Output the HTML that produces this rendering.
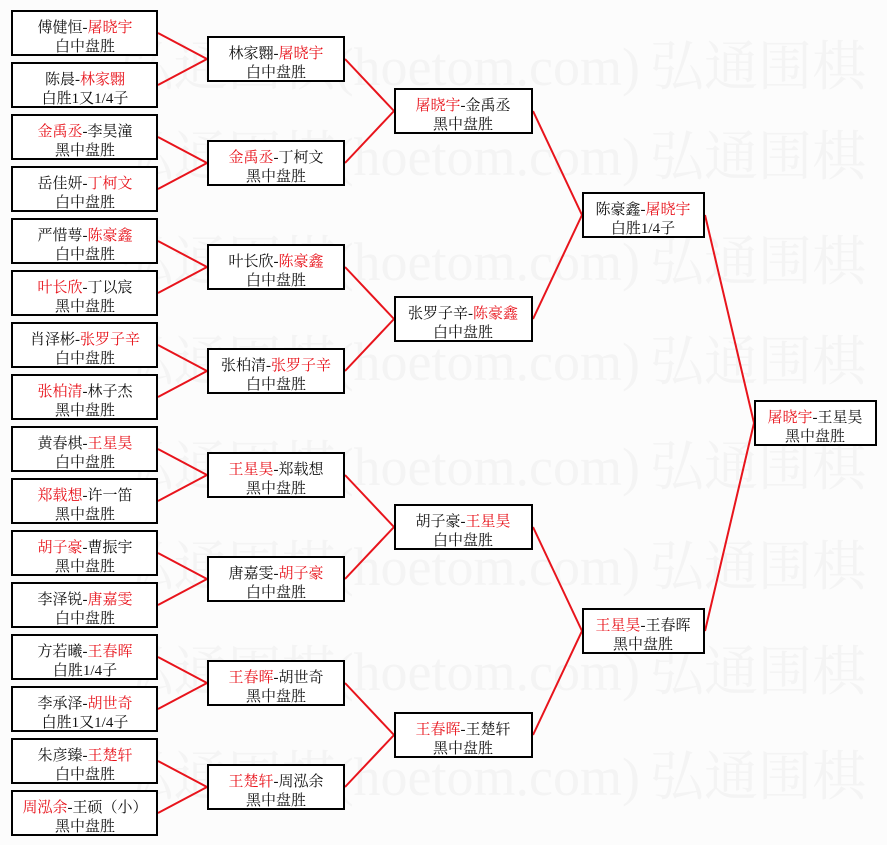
<!DOCTYPE html>
<html><head><meta charset="utf-8"><style>
html,body{margin:0;padding:0;background:#fcfcfc;}
svg{display:block;}
.t{font-family:"Liberation Serif","Noto Serif CJK SC","Noto Sans CJK SC",serif;font-size:15px;fill:#111;text-anchor:middle;}
.r{fill:#e8141c;}
.w{font-family:"Liberation Serif","Noto Serif CJK SC",serif;font-size:54px;fill:#f4f4f4;}
rect{fill:#fff;stroke:#000;stroke-width:2;}
line{stroke:#e8141c;stroke-width:2;}
</style></head><body>
<svg width="887" height="845" viewBox="0 0 887 845" xmlns="http://www.w3.org/2000/svg">
<g class="w">
<text x="640" y="85" text-anchor="end">弘通围棋(hoetom.com)</text><text x="650" y="85">弘通围棋</text>
<text x="640" y="175" text-anchor="end">弘通围棋(hoetom.com)</text><text x="650" y="175">弘通围棋</text>
<text x="640" y="280" text-anchor="end">弘通围棋(hoetom.com)</text><text x="650" y="280">弘通围棋</text>
<text x="640" y="380" text-anchor="end">弘通围棋(hoetom.com)</text><text x="650" y="380">弘通围棋</text>
<text x="640" y="485" text-anchor="end">弘通围棋(hoetom.com)</text><text x="650" y="485">弘通围棋</text>
<text x="640" y="585" text-anchor="end">弘通围棋(hoetom.com)</text><text x="650" y="585">弘通围棋</text>
<text x="640" y="690" text-anchor="end">弘通围棋(hoetom.com)</text><text x="650" y="690">弘通围棋</text>
<text x="640" y="795" text-anchor="end">弘通围棋(hoetom.com)</text><text x="650" y="795">弘通围棋</text>
</g>
<g>
<line x1="158" y1="33" x2="207" y2="59"/><line x1="158" y1="85" x2="207" y2="59"/>
<line x1="158" y1="137" x2="207" y2="163"/><line x1="158" y1="189" x2="207" y2="163"/>
<line x1="158" y1="241" x2="207" y2="267"/><line x1="158" y1="293" x2="207" y2="267"/>
<line x1="158" y1="345" x2="207" y2="371"/><line x1="158" y1="397" x2="207" y2="371"/>
<line x1="158" y1="449" x2="207" y2="475"/><line x1="158" y1="501" x2="207" y2="475"/>
<line x1="158" y1="553" x2="207" y2="579"/><line x1="158" y1="605" x2="207" y2="579"/>
<line x1="158" y1="657" x2="207" y2="683"/><line x1="158" y1="709" x2="207" y2="683"/>
<line x1="158" y1="761" x2="207" y2="787"/><line x1="158" y1="813" x2="207" y2="787"/>
<line x1="345" y1="59" x2="394" y2="111"/><line x1="345" y1="163" x2="394" y2="111"/>
<line x1="345" y1="267" x2="394" y2="319"/><line x1="345" y1="371" x2="394" y2="319"/>
<line x1="345" y1="475" x2="394" y2="527"/><line x1="345" y1="579" x2="394" y2="527"/>
<line x1="345" y1="683" x2="394" y2="735"/><line x1="345" y1="787" x2="394" y2="735"/>
<line x1="533" y1="111" x2="582" y2="215"/><line x1="533" y1="319" x2="582" y2="215"/>
<line x1="533" y1="527" x2="582" y2="631"/><line x1="533" y1="735" x2="582" y2="631"/>
<line x1="705" y1="215" x2="754" y2="423"/><line x1="705" y1="631" x2="754" y2="423"/>
</g>
<g>
<rect x="12" y="11" width="145" height="44"/><rect x="12" y="63" width="145" height="44"/>
<rect x="12" y="115" width="145" height="44"/><rect x="12" y="167" width="145" height="44"/>
<rect x="12" y="219" width="145" height="44"/><rect x="12" y="271" width="145" height="44"/>
<rect x="12" y="323" width="145" height="44"/><rect x="12" y="375" width="145" height="44"/>
<rect x="12" y="427" width="145" height="44"/><rect x="12" y="479" width="145" height="44"/>
<rect x="12" y="531" width="145" height="44"/><rect x="12" y="583" width="145" height="44"/>
<rect x="12" y="635" width="145" height="44"/><rect x="12" y="687" width="145" height="44"/>
<rect x="12" y="739" width="145" height="44"/><rect x="12" y="791" width="145" height="44"/>
<rect x="208" y="37" width="136" height="44"/><rect x="208" y="141" width="136" height="44"/>
<rect x="208" y="245" width="136" height="44"/><rect x="208" y="349" width="136" height="44"/>
<rect x="208" y="453" width="136" height="44"/><rect x="208" y="557" width="136" height="44"/>
<rect x="208" y="661" width="136" height="44"/><rect x="208" y="765" width="136" height="44"/>
<rect x="395" y="89" width="137" height="44"/><rect x="395" y="297" width="137" height="44"/>
<rect x="395" y="505" width="137" height="44"/><rect x="395" y="713" width="137" height="44"/>
<rect x="583" y="193" width="121" height="44"/><rect x="583" y="609" width="121" height="44"/>
<rect x="755" y="401" width="121" height="44"/>
</g>
<g class="t">
<text x="85" y="32">傅健恒-<tspan class="r">屠晓宇</tspan></text><text x="85" y="51">白中盘胜</text>
<text x="85" y="84">陈晨-<tspan class="r">林家翾</tspan></text><text x="85" y="103">白胜1又1/4子</text>
<text x="85" y="136"><tspan class="r">金禹丞</tspan>-李昊潼</text><text x="85" y="155">黑中盘胜</text>
<text x="85" y="188">岳佳妍-<tspan class="r">丁柯文</tspan></text><text x="85" y="207">白中盘胜</text>
<text x="85" y="240">严惜萼-<tspan class="r">陈豪鑫</tspan></text><text x="85" y="259">白中盘胜</text>
<text x="85" y="292"><tspan class="r">叶长欣</tspan>-丁以宸</text><text x="85" y="311">黑中盘胜</text>
<text x="85" y="344">肖泽彬-<tspan class="r">张罗子辛</tspan></text><text x="85" y="363">白中盘胜</text>
<text x="85" y="396"><tspan class="r">张柏清</tspan>-林子杰</text><text x="85" y="415">黑中盘胜</text>
<text x="85" y="448">黄春棋-<tspan class="r">王星昊</tspan></text><text x="85" y="467">白中盘胜</text>
<text x="85" y="500"><tspan class="r">郑载想</tspan>-许一笛</text><text x="85" y="519">黑中盘胜</text>
<text x="85" y="552"><tspan class="r">胡子豪</tspan>-曹振宇</text><text x="85" y="571">黑中盘胜</text>
<text x="85" y="604">李泽锐-<tspan class="r">唐嘉雯</tspan></text><text x="85" y="623">白中盘胜</text>
<text x="85" y="656">方若曦-<tspan class="r">王春晖</tspan></text><text x="85" y="675">白胜1/4子</text>
<text x="85" y="708">李承泽-<tspan class="r">胡世奇</tspan></text><text x="85" y="727">白胜1又1/4子</text>
<text x="85" y="760">朱彦臻-<tspan class="r">王楚轩</tspan></text><text x="85" y="779">白中盘胜</text>
<text x="85" y="812"><tspan class="r">周泓余</tspan>-王硕（小）</text><text x="85" y="831">黑中盘胜</text>

<text x="276" y="58">林家翾-<tspan class="r">屠晓宇</tspan></text><text x="276" y="77">白中盘胜</text>
<text x="276" y="162"><tspan class="r">金禹丞</tspan>-丁柯文</text><text x="276" y="181">黑中盘胜</text>
<text x="276" y="266">叶长欣-<tspan class="r">陈豪鑫</tspan></text><text x="276" y="285">白中盘胜</text>
<text x="276" y="370">张柏清-<tspan class="r">张罗子辛</tspan></text><text x="276" y="389">白中盘胜</text>
<text x="276" y="474"><tspan class="r">王星昊</tspan>-郑载想</text><text x="276" y="493">黑中盘胜</text>
<text x="276" y="578">唐嘉雯-<tspan class="r">胡子豪</tspan></text><text x="276" y="597">白中盘胜</text>
<text x="276" y="682"><tspan class="r">王春晖</tspan>-胡世奇</text><text x="276" y="701">黑中盘胜</text>
<text x="276" y="786"><tspan class="r">王楚轩</tspan>-周泓余</text><text x="276" y="805">黑中盘胜</text>

<text x="463" y="110"><tspan class="r">屠晓宇</tspan>-金禹丞</text><text x="463" y="129">黑中盘胜</text>
<text x="463" y="318">张罗子辛-<tspan class="r">陈豪鑫</tspan></text><text x="463" y="337">白中盘胜</text>
<text x="463" y="526">胡子豪-<tspan class="r">王星昊</tspan></text><text x="463" y="545">白中盘胜</text>
<text x="463" y="734"><tspan class="r">王春晖</tspan>-王楚轩</text><text x="463" y="753">黑中盘胜</text>

<text x="643" y="214">陈豪鑫-<tspan class="r">屠晓宇</tspan></text><text x="643" y="233">白胜1/4子</text>
<text x="643" y="630"><tspan class="r">王星昊</tspan>-王春晖</text><text x="643" y="649">黑中盘胜</text>

<text x="815" y="422"><tspan class="r">屠晓宇</tspan>-王星昊</text><text x="815" y="441">黑中盘胜</text>
</g>
</svg>
</body></html>
